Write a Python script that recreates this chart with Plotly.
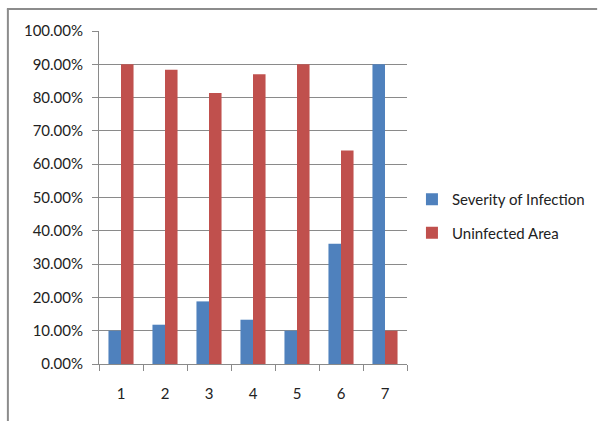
import plotly.graph_objects as go

categories = ["1", "2", "3", "4", "5", "6", "7"]
severity = [0.10, 0.118, 0.188, 0.133, 0.10, 0.361, 0.90]
uninfected = [0.90, 0.884, 0.814, 0.87, 0.90, 0.641, 0.10]
series_names = ["Severity of Infection", "Uninfected Area"]
colors = ["#4F81BD", "#C0504D"]

W, H = 602, 421
L, R, T, B = 99, 410, 31, 364

fig = go.Figure()
fig.add_trace(go.Bar(x=categories, y=severity, name=series_names[0],
                     marker=dict(color=colors[0], line=dict(width=0)), legendgroup="a"))
fig.add_trace(go.Bar(x=categories, y=uninfected, name=series_names[1],
                     marker=dict(color=colors[1], line=dict(width=0)), legendgroup="b"))

font = dict(family="Lato, Open Sans, sans-serif", size=15, color="#222222")

fig.update_layout(
    width=W, height=H,
    margin=dict(l=L, r=W - R, t=T, b=H - B, pad=0),
    paper_bgcolor="white", plot_bgcolor="white",
    barmode="group", bargap=0.43, bargroupgap=0,
    font=font,
    showlegend=True,
    legend=dict(x=(415 - L) / (R - L), y=(B - 183) / (B - T), xanchor="left", yanchor="top",
                font=font, tracegroupgap=11, bgcolor="rgba(0,0,0,0)"),
    xaxis=dict(type="category", showline=True, linecolor="#8a8a8a", linewidth=1,
               ticks="outside", ticklen=6, tickcolor="#8a8a8a", tickson="boundaries",
               showgrid=False, ticklabelstandoff=16, tickfont=font),
    yaxis=dict(range=[0, 1.0], tickvals=[i / 10 for i in range(11)], tickformat=".2%",
               showline=True, linecolor="#8a8a8a", linewidth=1,
               ticks="outside", ticklen=6, tickcolor="#8a8a8a", ticklabelstandoff=6,
               showgrid=True, gridcolor="#8a8a8a", gridwidth=1, zeroline=False,
               tickfont=font),
)

# outer chart frame (top and left edges)
fig.add_shape(type="line", xref="paper", yref="paper",
              x0=(6 - L) / (R - L), x1=(602 - L) / (R - L),
              y0=(B - 9) / (B - T), y1=(B - 9) / (B - T),
              line=dict(color="#8c8c8c", width=2))
fig.add_shape(type="line", xref="paper", yref="paper",
              x0=(7 - L) / (R - L), x1=(7 - L) / (R - L),
              y0=(B - 9) / (B - T), y1=(B - 421) / (B - T),
              line=dict(color="#8c8c8c", width=2))

fig.write_html("out.html", config={"displayModeBar": False},
               post_script="document.body.style.margin='0';document.body.style.overflow='hidden';")
